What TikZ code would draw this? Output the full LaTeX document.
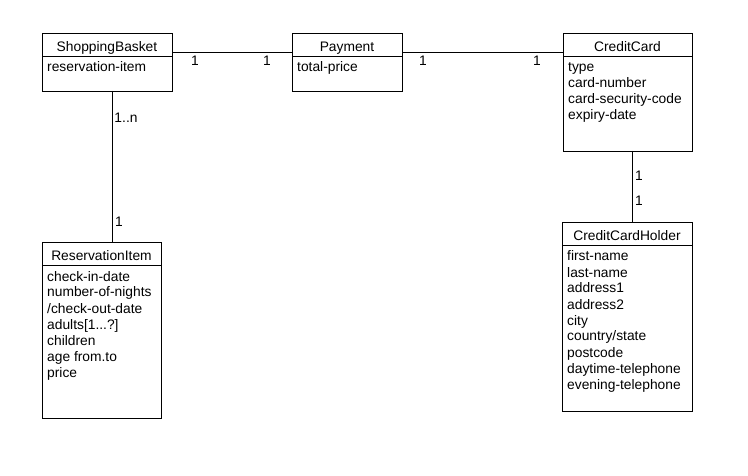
\documentclass[tikz,border=0pt]{standalone}
\usepackage{fontspec}
\setmainfont{Liberation Sans}
\usetikzlibrary{calc}
\begin{document}
\begin{tikzpicture}[x=1pt,y=-1pt,
  txt/.style={font=\fontsize{13.8}{16}\selectfont},
  classbox/.style={draw, line width=0.9pt, anchor=north west, inner sep=0pt, outer sep=0pt},
  title/.style={txt, anchor=base, inner sep=0pt},
  attr/.style={txt, anchor=base west, inner sep=0pt},
  mult/.style={txt, inner sep=0pt},
  conn/.style={line width=0.9pt}]
\useasboundingbox[fill=white] (0,0) rectangle (748,476);

% classes
\node[classbox, minimum width=130pt, minimum height=58pt] (sb) at (42,33) {};
\node[classbox, minimum width=110pt, minimum height=58pt] (pay) at (292,33) {};
\node[classbox, minimum width=129pt, minimum height=118pt] (cc) at (563,33) {};
\node[classbox, minimum width=119pt, minimum height=176pt] (ri) at (42,242) {};
\node[classbox, minimum width=130pt, minimum height=189pt] (cch) at (562,222) {};

% header dividers
\foreach \c in {sb,pay,cc,ri,cch}
  \draw[conn] ($(\c.north west)+(0,23)$) -- ($(\c.north east)+(0,23)$);

% titles
\node[title] (sb-t) at ($(sb.north)+(0,19)$) {ShoppingBasket};
\node[title] (pay-t) at ($(pay.north)+(0,19)$) {Payment};
\node[title] (cc-t) at ($(cc.north)+(0,19)$) {CreditCard};
\node[title] (ri-t) at ($(ri.north)+(0,19)$) {ReservationItem};
\node[title] (cch-t) at ($(cch.north)+(0,19)$) {CreditCardHolder};

% attributes
\node[attr] (sb-a1) at ($(sb.north west)+(5,39)$) {reservation-item};
\node[attr] (pay-a1) at ($(pay.north west)+(5,39)$) {total-price};
\foreach \t [count=\i] in {type,card-number,card-security-code,expiry-date}
  \node[attr] (cc-a\i) at ($(cc.north west)+(5,39+16*\i-16)$) {\t};
\node[attr] (ri-a1) at ($(ri.north west)+(5,39)$) {check-in-date};
\node[attr] (ri-a2) at ($(ri.north west)+(5,55)$) {number-of-nights};
\node[attr] (ri-a3) at ($(ri.north west)+(5,71)$) {/check-out-date};
\node[attr] (ri-a4) at ($(ri.north west)+(5,87)$) {adults[1...?]};
\node[attr] (ri-a5) at ($(ri.north west)+(5,103)$) {children};
\node[attr] (ri-a6) at ($(ri.north west)+(5,119)$) {age from.to};
\node[attr] (ri-a7) at ($(ri.north west)+(5,135)$) {price};
\foreach \t [count=\i] in {first-name,last-name,address1,address2,city,country/state,postcode,daytime-telephone,evening-telephone}
  \node[attr] (cch-a\i) at ($(cch.north west)+(5,39+16*\i-16)$) {\t};

% connectors
\draw[conn] ([yshift=-19pt]sb.north east) -- ([yshift=-19pt]pay.north west);
\draw[conn] ([yshift=-19pt]pay.north east) -- ([yshift=-19pt]cc.north west);
\draw[conn] ([xshift=70pt]sb.south west) -- ([xshift=70pt]sb.south west |- ri.north);
\draw[conn] ([xshift=69pt]cc.south west) -- ([xshift=69pt]cc.south west |- cch.north);

% multiplicities
\node[mult] (m1) at (195,61) {1};
\node[mult] (m2) at (267,61) {1};
\node[mult] (m3) at (423,61) {1};
\node[mult] (m4) at (537,61) {1};
\node[mult] (m5) at (126,118) {1..n};
\node[mult] (m6) at (119,222) {1};
\node[mult] (m7) at (639,176) {1};
\node[mult] (m8) at (639,201) {1};
\end{tikzpicture}
\end{document}
